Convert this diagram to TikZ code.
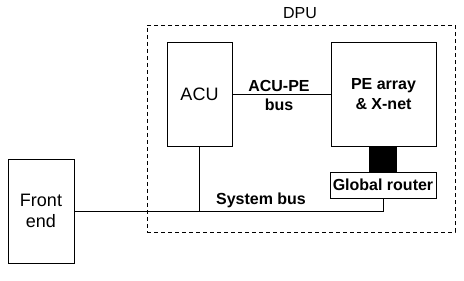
\documentclass[tikz,border=0pt]{standalone}
\usepackage{fontspec}
\setmainfont{Liberation Sans}
\usetikzlibrary{positioning}

\begin{document}
\begin{tikzpicture}[x=1pt,y=-1pt,font=\fontsize{18}{21}\selectfont,
  box/.style={draw,line width=1pt,fill=white,align=center,inner sep=2pt},
  bbox/.style={box,font=\fontsize{16}{20}\selectfont\bfseries},
  lbl/.style={font=\fontsize{16}{20}\selectfont\bfseries,anchor=base,inner sep=0pt},
  bus/.style={line width=1pt}]
  \useasboundingbox (0,0) rectangle (464,281);
  \node[draw,line width=1pt,dash pattern=on 4pt off 3pt,minimum width=308pt,minimum height=207pt](dpu) at (301,128.5){};
  \node[anchor=base,inner sep=0pt,font=\fontsize{16}{20}\selectfont](dpulbl) at (300,18.3){DPU};
  \node[box,minimum width=65pt,minimum height=104pt](acu) at (199.5,94){ACU};
  \node[bbox,minimum width=105pt,minimum height=104pt](pe) at (383.5,94){PE array\\\& X-net};
  \node[bbox,minimum width=106pt,minimum height=26pt](router) at (383,185){Global router};
  \node[box,minimum width=66pt,minimum height=104pt](front) at (41,211){Front\\end};
  \draw[bus](acu.east)--(pe.west);
  \node[lbl](acupe) at (279,91.7){ACU-PE};
  \node[lbl](acupebus) at (279,110){bus};
  \draw[line width=28pt](router.north |- pe.south)--(router.north);
  \draw[bus](front.east)--(router.south |- front.east)--(router.south);
  \draw[bus](acu.south)--(acu.south |- front.east);
  \node[lbl](sysbus) at (261,204){System bus};
\end{tikzpicture}
\end{document}
